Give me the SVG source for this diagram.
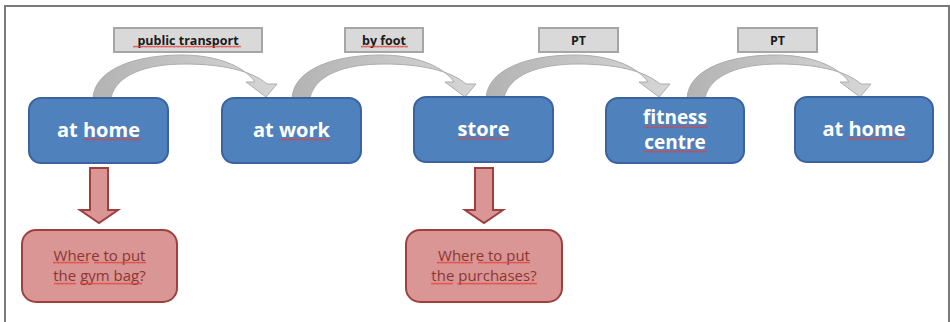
<svg xmlns="http://www.w3.org/2000/svg" width="950" height="322" viewBox="0 0 950 322">
<style>
.frame{fill:none;stroke:#7a7a7a;stroke-width:2}
.place rect{fill:#4F81BD;stroke:#3A64A0;stroke-width:2}
.place text{font-family:"Open Sans","Liberation Sans",sans-serif;font-weight:bold;font-size:20px;fill:#ffffff;text-anchor:middle}
.place text.two{font-size:19px}
.lbl rect{fill:#D9D9D9;stroke:#A6A6A6;stroke-width:2}
.lbl text{font-family:"Open Sans","Liberation Sans",sans-serif;font-weight:bold;font-size:12.5px;fill:#1a1a1a;text-anchor:middle}
.q rect{fill:#D99694;stroke:#A0403E;stroke-width:2}
.q text{font-family:"Open Sans","Liberation Sans",sans-serif;font-size:15px;fill:#8E3533;text-anchor:middle}
.curve{fill:url(#gg);stroke:#ADADAD;stroke-width:1}
.down{fill:#D99694;stroke:#A0403E;stroke-width:2;stroke-linejoin:miter}
.sq{fill:url(#squig)}
</style>
<defs>
<linearGradient id="gg" x1="0" y1="0" x2="1" y2="0">
<stop offset="0" stop-color="#B3B3B3"/>
<stop offset="1" stop-color="#D6D6D6"/>
</linearGradient>
<pattern id="squig" width="4" height="3" patternUnits="userSpaceOnUse">
<path d="M0 2.5 L1 0.8 L2 2.5 L3 0.8 L4 2.5" fill="none" stroke="#E0403A" stroke-width="0.8"/>
</pattern>
<path id="arc" d="M93 98 C95 69 135 55 182 55 C216 55 244 66 255 82 L246 82 L266 97 L277 84 L267 84 C251 70 220 64 185 64 C145 64 116 75 111 98 Z"/>
</defs>

<path class="frame" d="M5 323 V6 H949 V322"/>

<g id="connectors">
<use href="#arc" class="curve"/>
<use href="#arc" class="curve" transform="translate(199 0)"/>
<use href="#arc" class="curve" transform="translate(393 0)"/>
<use href="#arc" class="curve" transform="translate(594 0)"/>
<path class="down" d="M90 168 H108 V210 H118 L99 223 L80 210 H90 Z"/>
<path class="down" d="M475 168 H493 V210 H503 L484 223 L465 210 H475 Z"/>
</g>

<g id="label-public-transport" class="lbl"><rect x="114" y="28" width="148" height="24"/><text x="188" y="44.5">public transport</text></g>
<g id="label-by-foot" class="lbl"><rect x="345" y="28" width="78" height="24"/><text x="384" y="44.5">by foot</text></g>
<g id="label-pt-1" class="lbl"><rect x="539" y="28" width="79" height="24"/><text x="578.5" y="44.5">PT</text></g>
<g id="label-pt-2" class="lbl"><rect x="738" y="28" width="79" height="24"/><text x="777.5" y="44.5">PT</text></g>

<g id="node-home-1" class="place"><rect x="29" y="98" width="139" height="65" rx="12"/><text x="98.5" y="137">at home</text></g>
<g id="node-work" class="place"><rect x="222" y="98" width="139" height="65" rx="12"/><text x="291.5" y="137">at work</text></g>
<g id="node-store" class="place"><rect x="414" y="97" width="139" height="65" rx="12"/><text x="483.5" y="136">store</text></g>
<g id="node-fitness" class="place"><rect x="606" y="98" width="138" height="65" rx="12"/><text class="two" x="675" y="124">fitness</text><text class="two" x="675" y="149">centre</text></g>
<g id="node-home-2" class="place"><rect x="795" y="97" width="138" height="65" rx="12"/><text x="864" y="136">at home</text></g>

<g id="node-gym-bag" class="q"><rect x="22" y="230" width="155" height="72" rx="14"/><text x="99.5" y="260.5">Where to put</text><text x="99.5" y="281">the gym bag?</text></g>
<g id="node-purchases" class="q"><rect x="406" y="230" width="156" height="72" rx="14"/><text x="484" y="260.5">Where to put</text><text x="484" y="281">the purchases?</text></g>

<g id="spellcheck">
<rect class="sq" x="133" y="45" width="108" height="3"/>
<rect class="sq" x="361" y="45" width="47" height="3"/>
<rect class="sq" x="83" y="138" width="58" height="3"/>
<rect class="sq" x="279" y="138" width="51" height="3"/>
<rect class="sq" x="458" y="137" width="51" height="3"/>
<rect class="sq" x="643" y="125" width="64" height="3"/>
<rect class="sq" x="644" y="150" width="63" height="3"/>
<rect class="sq" x="848" y="137" width="59" height="3"/>
<rect class="sq" x="53" y="261" width="36" height="3"/>
<rect class="sq" x="94" y="261" width="52" height="3"/>
<rect class="sq" x="54" y="282" width="22" height="3"/>
<rect class="sq" x="80" y="282" width="62" height="3"/>
<rect class="sq" x="437" y="261" width="36" height="3"/>
<rect class="sq" x="478" y="261" width="52" height="3"/>
<rect class="sq" x="431" y="282" width="22" height="3"/>
<rect class="sq" x="457" y="282" width="80" height="3"/>
</g>
</svg>
